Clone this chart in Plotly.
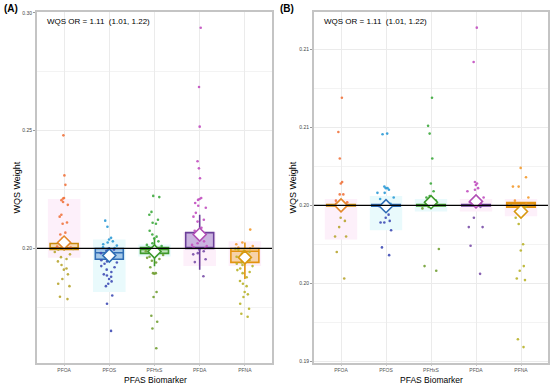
import plotly.graph_objects as go

# ---------------- data ----------------
categories = ["PFOA", "PFOS", "PFHxS", "PFDA", "PFNA"]
ref_weight = 0.2

# Panel A: individual weights
a_pfoa = [0.248, 0.231, 0.227, 0.2214, 0.2212, 0.2197, 0.2205, 0.2185, 0.2143, 0.2135, 0.211, 0.2105,
          0.2067, 0.2059, 0.2042, 0.2035, 0.2025, 0.2018, 0.2012, 0.2008, 0.2004, 0.2002, 0.2001, 0.1998,
          0.1995, 0.1985, 0.1975, 0.1963, 0.1955, 0.1945, 0.193, 0.1915, 0.191, 0.189, 0.187, 0.185,
          0.184, 0.1795, 0.1785]
a_pfos = [0.2118, 0.2092, 0.2045, 0.2038, 0.2030, 0.2025, 0.2018, 0.2012, 0.2005, 0.2002, 0.1998,
          0.1995, 0.199, 0.1985, 0.198, 0.1975, 0.197, 0.1965, 0.196, 0.1955, 0.195, 0.1945, 0.194,
          0.1935, 0.1925, 0.192, 0.191, 0.19, 0.189, 0.1885, 0.188, 0.187, 0.186, 0.185, 0.184, 0.18,
          0.1765, 0.165]
a_pfhxs = [0.2223, 0.2218, 0.2155, 0.2143, 0.2122, 0.2109, 0.2105, 0.2075, 0.2059, 0.205, 0.2042,
           0.203, 0.2022, 0.2015, 0.201, 0.2005, 0.2002, 0.1999, 0.1996, 0.1992, 0.1988, 0.198, 0.1972,
           0.1965, 0.196, 0.1955, 0.1948, 0.194, 0.192, 0.1895, 0.1895, 0.1893, 0.1815, 0.1794, 0.1714,
           0.1689, 0.166, 0.1576]
a_pfda = [0.2937, 0.2685, 0.2517, 0.237, 0.234, 0.2298, 0.221, 0.2206, 0.2214, 0.2193, 0.2181, 0.2173,
          0.2151, 0.2135, 0.2122, 0.2114, 0.2088, 0.2075, 0.206, 0.2052, 0.204, 0.203, 0.2022, 0.2015,
          0.201, 0.2005, 0.2001, 0.1995, 0.1988, 0.198, 0.1975, 0.1954, 0.1942, 0.1882]
a_pfna = [0.208, 0.2025, 0.2018, 0.201, 0.2004, 0.2001, 0.1998, 0.1995, 0.199, 0.1985, 0.1978, 0.1972,
          0.1965, 0.196, 0.1955, 0.195, 0.1945, 0.194, 0.1935, 0.193, 0.1925, 0.1915, 0.1908, 0.19,
          0.1895, 0.1878, 0.1862, 0.185, 0.184, 0.1815, 0.1805, 0.1794, 0.1765, 0.1744, 0.1723, 0.171]

# Panel A box summaries
a_q1 = [0.1996, 0.1954, 0.1979, 0.2000, 0.1941]
a_med = [0.2003, 0.1982, 0.1996, 0.2003, 0.1988]
a_q3 = [0.2021, 0.2000, 0.2004, 0.2067, 0.2000]
a_lo = [0.1990, 0.1948, 0.1924, 0.1910, 0.1870]
a_hi = [0.2040, 0.2006, 0.2046, 0.2143, 0.2025]
a_mean = [0.2025, 0.1970, 0.1987, 0.2059, 0.1962]
a_band_lo = [0.1960, 0.1815, 0.1966, 0.1925, 0.1925]
a_band_hi = [0.2210, 0.2038, 0.2017, 0.2070, 0.2030]

# Panel B: individual weights
b_pfoa = [0.2069, 0.2047, 0.2030, 0.2015, 0.2014, 0.2007, 0.2007, 0.2003, 0.2002, 0.2001, 0.20005,
          0.2, 0.19995, 0.1999, 0.1992, 0.1990, 0.1986, 0.1980, 0.1980, 0.1970, 0.1953]
b_pfos = [0.20456, 0.2046, 0.2011, 0.2012, 0.2010, 0.2011, 0.2008, 0.2008, 0.2005, 0.2004, 0.2001,
          0.2, 0.19995, 0.1999, 0.1994, 0.1992, 0.1990, 0.1989, 0.1989, 0.1984, 0.1973, 0.1968]
b_pfhxs = [0.2069, 0.2051, 0.2046, 0.2030, 0.2014, 0.2009, 0.2006, 0.2005, 0.2003, 0.2002, 0.2001,
           0.2, 0.1999, 0.1998, 0.1972, 0.1961, 0.1958]
b_pfda = [0.2114, 0.2092, 0.2015, 0.2014, 0.2013, 0.2011, 0.2010, 0.2009, 0.2005, 0.2002, 0.2001,
          0.2, 0.1999, 0.1992, 0.1986, 0.1986, 0.1974, 0.1956]
b_pfna = [0.2024, 0.2018, 0.2012, 0.2012, 0.2005, 0.2003, 0.2001, 0.2, 0.1999, 0.1998, 0.1996,
          0.1992, 0.1988, 0.1975, 0.1971, 0.1961, 0.1958, 0.1953, 0.1952, 0.1914, 0.1909]

# Panel B box summaries
b_q1 = [0.19997, 0.19996, 0.19997, 0.19997, 0.19990]
b_med = [0.20000, 0.20000, 0.20000, 0.20000, 0.19998]
b_q3 = [0.20003, 0.20003, 0.20003, 0.20003, 0.20016]
b_lo = [0.19997, 0.19996, 0.19997, 0.19997, 0.19990]
b_hi = [0.20003, 0.20003, 0.20003, 0.20003, 0.20016]
b_mean = [0.20000, 0.19994, 0.20020, 0.20025, 0.19960]
b_band_lo = [0.1978, 0.1984, 0.1996, 0.1996, 0.1993]
b_band_hi = [0.2004, 0.2006, 0.2004, 0.2004, 0.2004]

b_yticks = [0.19, 0.195, 0.20, 0.205, 0.21]
b_yticklabels = ["0.19", "0.20", "0.20", "0.21", "0.21"]

annotation_text = "WQS OR = 1.11\u00a0 (1.01, 1.22)"

# ---------------- styles ----------------
outline = ["#C98B0B", "#2F6DB5", "#3E9A2C", "#6B3F99", "#E39310"]
fills = ["rgba(240,190,100,0.45)", "rgba(110,160,215,0.55)", "rgba(140,200,110,0.45)",
         "rgba(160,130,200,0.55)", "rgba(240,180,90,0.5)"]
diamond_line = ["#E3872A", "#2F6DB5", "#3E9A2C", "#B04FB5", "#D8980F"]
band_colors = ["#FDF0FA", "#E9FAFC", "#E9FAFC", "#FDF0FA", "#FDF0FA"]
pt_high = ["#F1743E", "#2C9AD6", "#3DAA3D", "#C24FC0", "#F39A2D"]
pt_low = ["#B8A530", "#3F4DB5", "#72A034", "#7A4FA8", "#B8B22A"]

FONT = "Liberation Sans, Arial, sans-serif"
W, H = 550, 385

fig = go.Figure()


def add_panel(xa, ya, series, q1, med, q3, lo, hi, mean, band_lo, band_hi, box_lw):
    # shaded bands
    fig.add_trace(go.Bar(x=categories, y=[h - l for h, l in zip(band_hi, band_lo)], base=band_lo,
                         width=0.72, marker=dict(color=band_colors, line=dict(width=0)),
                         xaxis=xa, yaxis=ya, showlegend=False, hoverinfo="skip"))
    for i, cat in enumerate(categories):
        fig.add_trace(go.Box(x=[cat], q1=[q1[i]], median=[med[i]], q3=[q3[i]],
                             lowerfence=[lo[i]], upperfence=[hi[i]], boxpoints=False,
                             width=0.62, whiskerwidth=0,
                             line=dict(color=outline[i], width=box_lw), fillcolor=fills[i],
                             xaxis=xa, yaxis=ya, showlegend=False))
    for i, cat in enumerate(categories):
        vals = series[i]
        for sub, col in (([v for v in vals if v > ref_weight], pt_high[i]),
                         ([v for v in vals if v <= ref_weight], pt_low[i])):
            if not sub:
                continue
            fig.add_trace(go.Box(x=[cat] * len(sub), y=sub, boxpoints="all", jitter=0.9,
                                 pointpos=0, width=0.5,
                                 line=dict(width=0, color="rgba(0,0,0,0)"),
                                 fillcolor="rgba(0,0,0,0)",
                                 marker=dict(size=2.6, color=col, opacity=0.9),
                                 xaxis=xa, yaxis=ya, showlegend=False))
    fig.add_trace(go.Scatter(x=categories, y=mean, mode="markers",
                             marker=dict(symbol="diamond", size=10, color="white",
                                         line=dict(color=diamond_line, width=1.6)),
                             xaxis=xa, yaxis=ya, showlegend=False))


add_panel("x", "y", [a_pfoa, a_pfos, a_pfhxs, a_pfda, a_pfna],
          a_q1, a_med, a_q3, a_lo, a_hi, a_mean, a_band_lo, a_band_hi, 1.6)
add_panel("x2", "y2", [b_pfoa, b_pfos, b_pfhxs, b_pfda, b_pfna],
          b_q1, b_med, b_q3, b_lo, b_hi, b_mean, b_band_lo, b_band_hi, 2.2)

y_top, y_bot = 10, 364
ydom = [1 - y_bot / H, 1 - y_top / H]

xcommon = dict(type="category", categoryorder="array", categoryarray=categories,
               range=[-0.6, 4.6], showgrid=True, gridcolor="#EBEBEB", gridwidth=1,
               showline=True, mirror=True, linecolor="#C4C4C4", linewidth=2,
               ticks="outside", ticklen=1, tickcolor="#C4C4C4",
               tickfont=dict(family=FONT, size=5, color="#555555"), zeroline=False)
ycommon = dict(showgrid=True, gridcolor="#EBEBEB", gridwidth=1,
               showline=True, mirror=True, linecolor="#C4C4C4", linewidth=2,
               ticks="outside", ticklen=2, tickcolor="#999999",
               tickfont=dict(family=FONT, size=5, color="#444444"), zeroline=False)

fig.update_layout(
    width=W, height=H, autosize=False,
    margin=dict(l=0, r=0, t=0, b=0),
    paper_bgcolor="white", plot_bgcolor="white",
    boxmode="overlay", barmode="overlay", showlegend=False,
    font=dict(family=FONT),
    xaxis=dict(domain=[37 / W, 272 / W], anchor="y", **xcommon),
    xaxis2=dict(domain=[314 / W, 548 / W], anchor="y2", **xcommon),
    yaxis=dict(domain=ydom, anchor="x", range=[0.1513, 0.3004], tickmode="linear",
               tick0=0.2, dtick=0.05, tickformat=".2f",
               minor=dict(tickmode="linear", tick0=0.175, dtick=0.05, showgrid=True,
                          gridcolor="#F3F3F3", ticks=""),
               **ycommon),
    yaxis2=dict(domain=ydom, anchor="x2", range=[0.18987, 0.21241], tickmode="array",
                tickvals=b_yticks, ticktext=b_yticklabels,
                minor=dict(tickmode="linear", tick0=0.1925, dtick=0.005, showgrid=True,
                           gridcolor="#F3F3F3", ticks=""),
                **ycommon),
)

for xr, yr in (("x", "y"), ("x2", "y2")):
    fig.add_shape(type="line", xref=f"{xr} domain", x0=0, x1=1, yref=yr, y0=ref_weight,
                  y1=ref_weight, line=dict(color="black", width=1.2))

ann = []
for x0, label, x_left, xmid, ylab_x in ((2, "(A)", 45, 155, 17), (278, "(B)", 322, 431, 293)):
    ann.append(dict(x=x0 / W, y=1 - 7 / H, xref="paper", yref="paper", xanchor="left",
                    yanchor="middle", text=f"<b>{label}</b>", showarrow=False,
                    font=dict(family=FONT, size=10, color="black")))
    ann.append(dict(x=x_left / W, y=1 - 20 / H, xref="paper", yref="paper", xanchor="left",
                    yanchor="middle", text=annotation_text, showarrow=False,
                    font=dict(family=FONT, size=8, color="black")))
    ann.append(dict(x=xmid / W, y=1 - 380.5 / H, xref="paper", yref="paper", xanchor="center",
                    yanchor="middle", text="PFAS Biomarker", showarrow=False, borderpad=0,
                    font=dict(family=FONT, size=8.5, color="black")))
    ann.append(dict(x=ylab_x / W, y=1 - 187 / H, xref="paper", yref="paper", xanchor="center",
                    yanchor="middle", text="WQS Weight", textangle=-90, showarrow=False,
                    font=dict(family=FONT, size=9, color="black")))
fig.update_layout(annotations=ann)

fig.write_html("out.html", config={"displayModeBar": False},
               post_script="document.body.style.margin='0';document.body.style.padding='0';")
